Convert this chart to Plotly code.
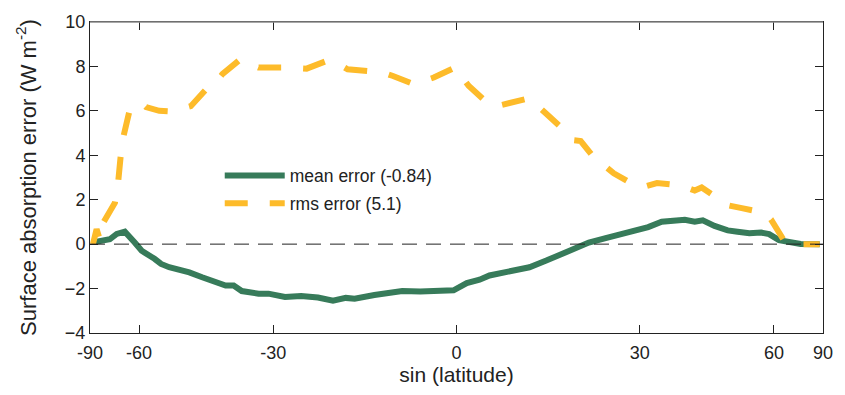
import numpy as np
import plotly.graph_objects as go

# x positions are sin(latitude)
mean_x = [-0.985, -0.959, -0.946, -0.927, -0.905, -0.878, -0.859, -0.824, -0.806, -0.784,
          -0.729, -0.694, -0.657, -0.630, -0.608, -0.586, -0.540, -0.513, -0.468, -0.424,
          -0.378, -0.337, -0.302, -0.278, -0.224, -0.188, -0.148, -0.099, -0.053, -0.008,
          0.028, 0.063, 0.090, 0.154, 0.199, 0.245, 0.290, 0.334, 0.361, 0.407,
          0.452, 0.506, 0.523, 0.560, 0.596, 0.623, 0.650, 0.672, 0.704, 0.740,
          0.767, 0.799, 0.831, 0.853, 0.880, 0.912, 0.939, 0.991]
mean_err = [0.10, 0.15, 0.22, 0.46, 0.56, 0.07, -0.30, -0.66, -0.89, -1.04,
            -1.27, -1.49, -1.71, -1.86, -1.86, -2.11, -2.23, -2.23, -2.38, -2.33,
            -2.40, -2.55, -2.42, -2.46, -2.29, -2.23, -2.11, -2.13, -2.08, -2.08,
            -1.75, -1.60, -1.41, -1.22, -1.04, -0.74, -0.40, -0.10, 0.07, 0.27,
            0.45, 0.67, 0.77, 1.01, 1.04, 1.10, 1.01, 1.07, 0.82, 0.62,
            0.56, 0.49, 0.52, 0.45, 0.18, 0.06, 0.01, 0.00]

rms_x = [-0.992, -0.982, -0.973, -0.964, -0.932, -0.923, -0.916, -0.908, -0.892, -0.878,
         -0.856, -0.847, -0.811, -0.779, -0.752, -0.725, -0.678, -0.657, -0.639, -0.590,
         -0.572, -0.540, -0.472, -0.409, -0.348, -0.328, -0.297, -0.233, -0.202, -0.175,
         -0.116, -0.062, -0.004, 0.033, 0.082, 0.109, 0.136, 0.199, 0.245, 0.294,
         0.317, 0.339, 0.384, 0.407, 0.429, 0.493, 0.515, 0.547, 0.614, 0.632,
         0.650, 0.669, 0.723, 0.741, 0.775, 0.840, 0.858, 0.876, 0.894, 0.921, 0.991]
rms_err = [0.00, 0.67, 0.20, 0.96, 1.86, 2.82, 4.02, 4.90, 6.02, 6.29,
           6.31, 6.17, 6.00, 5.97, 6.09, 6.21, 7.06, 7.28, 7.65, 8.32,
           8.17, 7.95, 7.95, 7.90, 8.29, 8.17, 7.87, 7.76, 7.73, 7.58,
           7.20, 7.50, 7.95, 7.13, 6.39, 6.21, 6.31, 6.57, 5.87, 5.13,
           4.68, 4.64, 3.71, 3.49, 3.19, 2.60, 2.60, 2.75, 2.64, 2.52,
           2.41, 2.55, 1.93, 1.75, 1.63, 1.41, 1.11, 0.64, 0.15, 0.00, 0.00]

lat_ticks = [-90, -60, -30, 0, 30, 60, 90]
lat_labels = ["-90", "-60", "-30", "0", "30", "60", "90"]
y_ticks = [-4, -2, 0, 2, 4, 6, 8, 10]

series_names = ["mean error (-0.84)", "rms error (5.1)"]

GREEN = "#377b5a"
YELLOW = "#fdbb2a"
FONT = "Liberation Sans, Arial, sans-serif"
TXT = "#222222"
GRAY = "#8a8a8a"

x_tickvals = list(np.sin(np.radians(lat_ticks)))

fig = go.Figure()
fig.add_trace(go.Scatter(x=mean_x, y=mean_err, mode="lines", name=series_names[0],
                         line=dict(color=GREEN, width=6), legend="legend", showlegend=True))
fig.add_trace(go.Scatter(x=rms_x, y=rms_err, mode="lines", name=series_names[1],
                         line=dict(color=YELLOW, width=6, dash="23px,22px"), legend="legend2",
                         showlegend=True))

fig.add_hline(y=0, line=dict(color=TXT, width=1, dash="15px,9px"))
# lighter top frame edge, as in the reference
fig.add_shape(type="line", xref="paper", yref="paper", x0=0, x1=1, y0=1, y1=1,
              line=dict(color=GRAY, width=1.5), layer="above")

fig.update_layout(
    xaxis=dict(range=[-1, 1], tickvals=x_tickvals, ticktext=lat_labels,
               ticks="inside", ticklen=8, tickcolor=TXT, showgrid=False, zeroline=False,
               showline=True, linecolor=TXT, linewidth=1, mirror="all", ticklabelstandoff=3,
               tickfont=dict(size=18, color=TXT, family=FONT),
               title=dict(text="sin (latitude)", font=dict(size=21, color=TXT, family=FONT), standoff=3)),
    yaxis=dict(range=[-4, 10], tickvals=y_ticks,
               ticks="inside", ticklen=8, tickcolor=TXT, showgrid=False, zeroline=False,
               showline=True, linecolor=TXT, linewidth=1, mirror="all",
               tickfont=dict(size=18, color=TXT, family=FONT),
               title=dict(text="Surface absorption error (W m<sup>-2</sup>)",
                          font=dict(size=22, color=TXT, family=FONT), standoff=22)),
)

leg_common = dict(xanchor="left", yanchor="middle", bgcolor="rgba(0,0,0,0)",
                  font=dict(size=17.5, color=TXT, family=FONT), itemwidth=60)
fig.update_layout(
    width=845, height=395,
    margin=dict(l=90, r=16, t=19, b=62),
    plot_bgcolor="white", paper_bgcolor="white",
    font=dict(family=FONT, color=TXT),
    showlegend=True,
    legend=dict(x=0.177, y=(333 - 174) / 314, **leg_common),
    legend2=dict(x=0.177, y=(333 - 202) / 314, **leg_common),
)

fig.write_html("out.html")
